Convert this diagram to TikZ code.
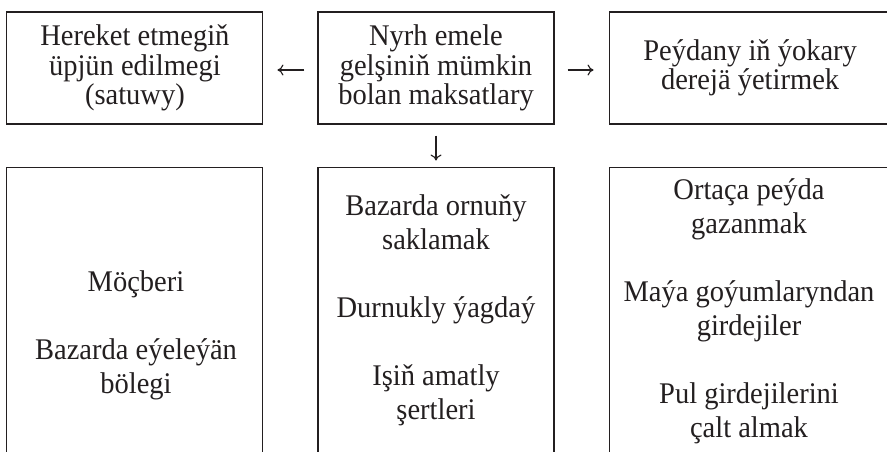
\documentclass[tikz,border=0pt]{standalone}
\usepackage{fontspec}
\setmainfont{Liberation Serif}[FakeStretch=0.95]
\usetikzlibrary{positioning,arrows.meta}
\definecolor{ink}{RGB}{35,31,32}
\tikzset{
  box/.style={draw=ink,line width=1.1pt,inner sep=0pt,minimum height=112pt},
  toptext/.style={align=center,text=ink,font=\fontsize{30}{29.5}\selectfont},
  bottext/.style={align=center,text=ink,font=\fontsize{30}{34}\selectfont},
  arr/.style={draw=ink,line width=1.1pt,-{Computer Modern Rightarrow[length=6pt,width=11pt]}}
}
\begin{document}
\begin{tikzpicture}[x=1pt,y=-1pt]
\useasboundingbox (0,0) rectangle (887,451);
\clip (0,0) rectangle (887,451);
%\draw [help lines,step=50] (0,0) grid (887,451);
\node [box,toptext,minimum width=236pt] (goals) at (436,68) {Nyrh emele\\gelşiniň mümkin\\bolan maksatlary};
\node [box,toptext,minimum width=256pt,left=54pt of goals] (sales) {Hereket etmegiň\\üpjün edilmegi\\(satuwy)};
\node [box,toptext,minimum width=282pt,right=54pt of goals] (profit) {Peýdany iň ýokary\\derejä ýetirmek};
\node [box,minimum width=236pt,minimum height=320pt,below=42pt of goals] (stable) {};
\node [box,minimum width=256pt,minimum height=320pt,below=42pt of sales] (share) {};
\node [box,minimum width=282pt,minimum height=320pt,below=42pt of profit] (income) {};
\node [bottext] (shareTxt) at (136,335) {Möçberi\\[34pt]Bazarda eýeleýän\\bölegi};
\node [bottext] (stableTxt) at (436,310) {Bazarda ornuňy\\saklamak\\[34pt]Durnukly ýagdaý\\[34pt]Işiň amatly\\şertleri};
\node [bottext] (incomeTxt) at (749,311) {Ortaça peýda\\gazanmak\\[34pt]Maýa goýumlaryndan\\girdejiler\\[34pt]Pul girdejilerini\\çalt almak};
\draw [arr,shorten <=13pt,shorten >=14pt] ([yshift=-2pt]goals.west) -- ([yshift=-2pt]sales.east);
\draw [arr,shorten <=13pt,shorten >=15pt] ([yshift=-2pt]goals.east) -- ([yshift=-2pt]profit.west);
\draw [arr,shorten <=11pt,shorten >=6pt] (goals.south) -- (stable.north);
\end{tikzpicture}
\end{document}
